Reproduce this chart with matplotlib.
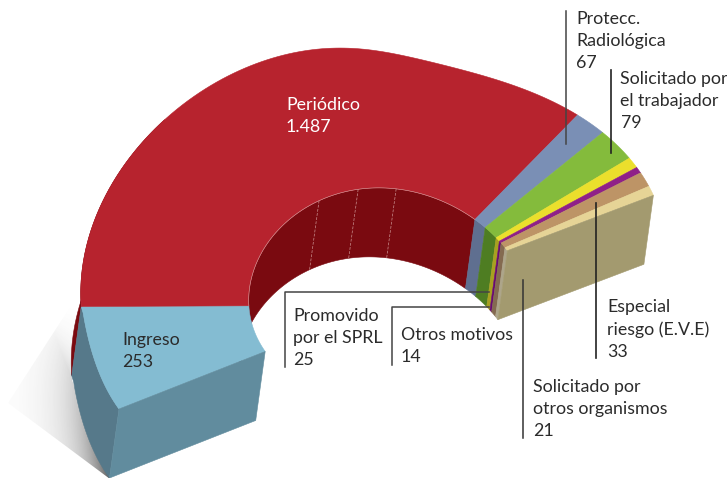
import numpy as np
import matplotlib
matplotlib.use('Agg')
import matplotlib.pyplot as plt

values = [253, 1487, 67, 79, 25, 14, 33, 21]
names = ['Ingreso\n253', 'Periódico\n1.487', 'Protecc.\nRadiológica\n67', 'Solicitado por\nel trabajador\n79',
         'Promovido\npor el SPRL\n25', 'Otros motivos\n14', 'Especial\nriesgo (E.V.E)\n33',
         'Solicitado por\notros organismos\n21']
top_colors = ['#84bcd2', '#b7232e', '#7a8fb5', '#84bb3c', '#ebdf2c', '#8f2088', '#bd9466', '#e6d496']
wall_colors = [None, '#7a0a10', '#5f6f90', '#4e7d22', '#a8a020', '#680a72', '#846a50', '#ada58a']
facets = [928, 1128, 1315]

cum = np.concatenate([[0], np.cumsum(values)])
total = cum[-1]

# ring projection, calibrated on the picture: value -> pixel on the top face
outer_x = np.array([380.5, -246.7, -101.3, -52.6, 40.3])
outer_y = np.array([228.2, 96.6, -198.3, -18.3, -45.3])
inner_x = np.array([391.0, -118.0, -73.2, -7.8, 0.8])
inner_y = np.array([294.0, 54.2, -92.8, 3.3, -3.9])
outer_sweep = np.radians(210)
inner_sweep = np.radians(185)
shift = np.array([-9.5, 69.0])  # extrusion of the solid


def basis(t):
    t = np.asarray(t)
    return np.stack([np.ones_like(t), np.cos(t), np.sin(t), np.cos(2 * t), np.sin(2 * t)], -1)


def outer(v):
    v = np.asarray(v, float)
    t = (v - values[0]) / (total - values[0]) * outer_sweep
    u = v / values[0]
    xy = np.stack([basis(t) @ outer_x, basis(t) @ outer_y], -1)
    # the first slice sits slightly apart from the big ellipse
    first = np.stack([119 - 52 * u + 16 * u * u, 409 - 71 * u - 26 * u * u], -1)
    return np.where((v < values[0])[..., None], first, xy)


def inner(v):
    t = np.asarray(v, float) / total * inner_sweep
    return np.stack([basis(t) @ inner_x, basis(t) @ inner_y], -1)


def arc(v0, v1):
    return np.linspace(v0, v1, 120)


def band(ax, v0, v1, color):
    pts = np.vstack([outer(arc(v0, v1)), inner(arc(v1, v0))])
    ax.fill(pts[:, 0], pts[:, 1], color=color, lw=0.4)


def wall(ax, fn, v0, v1, color):
    top = fn(arc(v0, v1))
    pts = np.vstack([top, (top + shift)[::-1]])
    ax.fill(pts[:, 0], pts[:, 1], color=color, lw=0.4)


fig = plt.figure(figsize=(7.27, 4.78), dpi=100)
ax = fig.add_axes([0, 0, 1, 1])
ax.set_xlim(0, 727)
ax.set_ylim(478, 0)
ax.axis('off')

# soft shadow at the lower left
yy, xx = np.mgrid[0:478, 0:727]
d = np.abs((xx - 110) * 98 - (yy - 478) * 38) / np.hypot(98, 38)
a = 0.85 * np.exp(-d / 22) * np.clip((yy - 290) / 190, 0, 1) ** 1.8
rgba = np.zeros((478, 727, 4))
rgba[..., :3] = 0.22
rgba[..., 3] = a
im = ax.imshow(rgba, extent=(0, 727, 478, 0), aspect='auto', zorder=0)
im.set_clip_path(plt.Polygon([(8, 403), (110, 479), (72, 380), (81, 290)], transform=ax.transData))

wall(ax, outer, values[0], 600, wall_colors[1])
wall(ax, outer, 0, values[0], '#56798a')
for i in range(1, len(values)):
    wall(ax, inner, cum[i], cum[i + 1], wall_colors[i])
for v in facets:
    p = inner(v)
    q = p + shift
    ax.plot([p[0], q[0]], [p[1], q[1]], color='#c98f8f', lw=0.5, ls=(0, (4, 2)))

for i in range(len(values)):
    band(ax, cum[i], cum[i + 1], top_colors[i])
edge = inner(arc(cum[1], cum[2]))
ax.plot(edge[:, 0], edge[:, 1], color='#d9a5a5', lw=0.4)

front = np.array([outer(0), inner(0), inner(0) + shift, outer(0) + shift])
ax.fill(front[:, 0], front[:, 1], color='#618c9e', lw=0.4)
end = np.array([outer(total), inner(total), inner(total) + shift, outer(total) + shift])
ax.fill(end[:, 0], end[:, 1], color='#a39a6f', lw=0.4)

# leader lines
ax.plot([565.5, 565.5], [11, 144], color='#444444', lw=1.1)
ax.plot([611, 611], [70, 153], color='#222222', lw=1.2)
ax.plot([596, 596], [203, 358], color='#222222', lw=1.2)
ax.plot([522.5, 522.5], [280, 438], color='#333333', lw=1.1)
ax.plot([284.5, 284.5, 489], [367, 292, 292], color='#444444', lw=1.1)
ax.plot([391.5, 391.5, 489], [365, 307, 307], color='#444444', lw=1.1)

family = ['Lato', 'DejaVu Sans']
pos = [(122, 332), (286, 97), (576, 11), (620.5, 71), (293, 308), (401, 327), (607, 299), (533, 379)]
for i, (x, y) in enumerate(pos):
    ax.text(x, y, names[i], ha='left', va='top', fontsize=12.8, linespacing=1.45, family=family,
            color='white' if i == 1 else '#2b2b2b')

fig.savefig('out.png', dpi=100)
